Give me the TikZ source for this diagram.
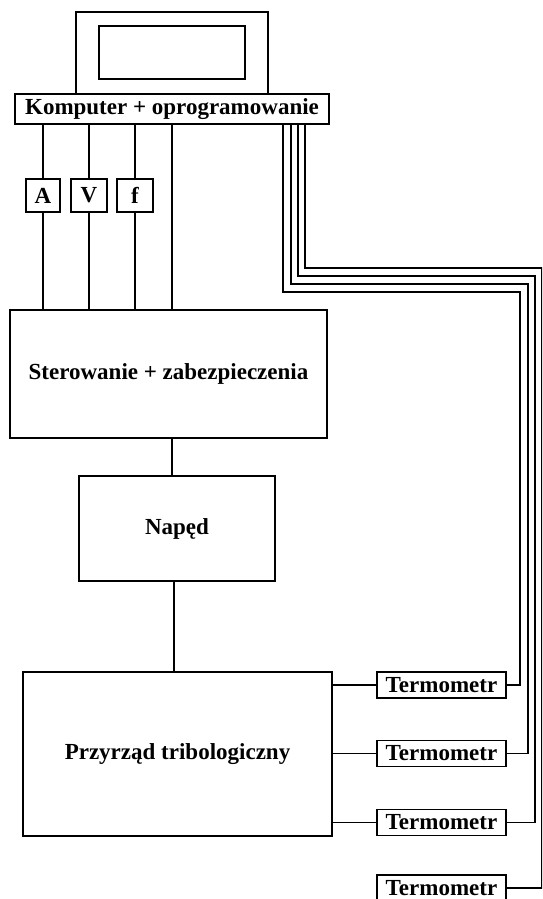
\documentclass[tikz,border=0pt]{standalone}
\usepackage{fontspec}
\setmainfont{Liberation Serif}
\usetikzlibrary{calc, positioning}

\begin{document}
\begin{tikzpicture}[x=1pt, y=-1pt]
    \useasboundingbox (0,0) rectangle (542,899);
    \clip (0,0) rectangle (542,899);
    \begin{scope}[every node/.style={draw, line width=1.1pt, fill=white, inner sep=0pt, font=\fontsize{23}{25}\selectfont\bfseries}]
        \node (mon) [minimum width=192pt, minimum height=82pt] at (172,53) {};
        \node (ekran) [line width=1.8pt, minimum width=146pt, minimum height=53pt] at (172,52.5) {};
        \node (komp) [minimum width=314pt, minimum height=30pt] at (172,109) {Komputer + oprogramowanie};
        \node (mA) [minimum width=34pt, minimum height=33pt] at (43,195.5) {A};
        \node (mV) [minimum width=36pt, minimum height=33pt] at (89,195.5) {V};
        \node (mf) [minimum width=36pt, minimum height=33pt] at (135,195.5) {f};
        \node (ster) [minimum width=317pt, minimum height=128pt] at (168.5,374) {Sterowanie + zabezpieczenia};
        \node (naped) [minimum width=196pt, minimum height=105pt] at (177,528.5) {Napęd};
        \node (przy) [minimum width=309pt, minimum height=164pt] at (177.5,754) {Przyrząd tribologiczny};
        \node (t1) [minimum width=129pt, minimum height=26pt] at (441.5,685) {Termometr};
        \node (t2) [minimum width=129pt, minimum height=26pt] at (441.5,753.5) {Termometr};
        \node (t3) [minimum width=129pt, minimum height=26pt] at (441.5,822.5) {Termometr};
        \node (t4) [minimum width=129pt, minimum height=26pt] at (441.5,888) {Termometr};
    \end{scope}
    \foreach \m in {mA,mV,mf} {
        \draw[line width=1.1pt] (\m.north) -- (\m.north |- komp.south);
        \draw[line width=1.1pt] (\m.south) -- (\m.south |- ster.north);
    }
    \draw[line width=1.1pt] (komp.south) -- (komp.south |- ster.north);
    \draw[line width=1.1pt] (ster.south -| komp.south) -- (naped.north -| komp.south);
    \draw[line width=1.1pt] ([xshift=-3pt]naped.south) -- ([xshift=-3pt]naped.south |- przy.north);
    \foreach \i in {1,2,3} \draw[line width=1.1pt] (t\i.west -| przy.east) -- (t\i.west);
    \foreach \i/\dx/\cy/\rx in {1/111/292/520, 2/119/284/528, 3/126/276/535, 4/133/268/542}
        \draw[line width=1.1pt] ([xshift=\dx pt]komp.south) |- (\rx,\cy) |- (t\i.east);
\end{tikzpicture}
\end{document}
